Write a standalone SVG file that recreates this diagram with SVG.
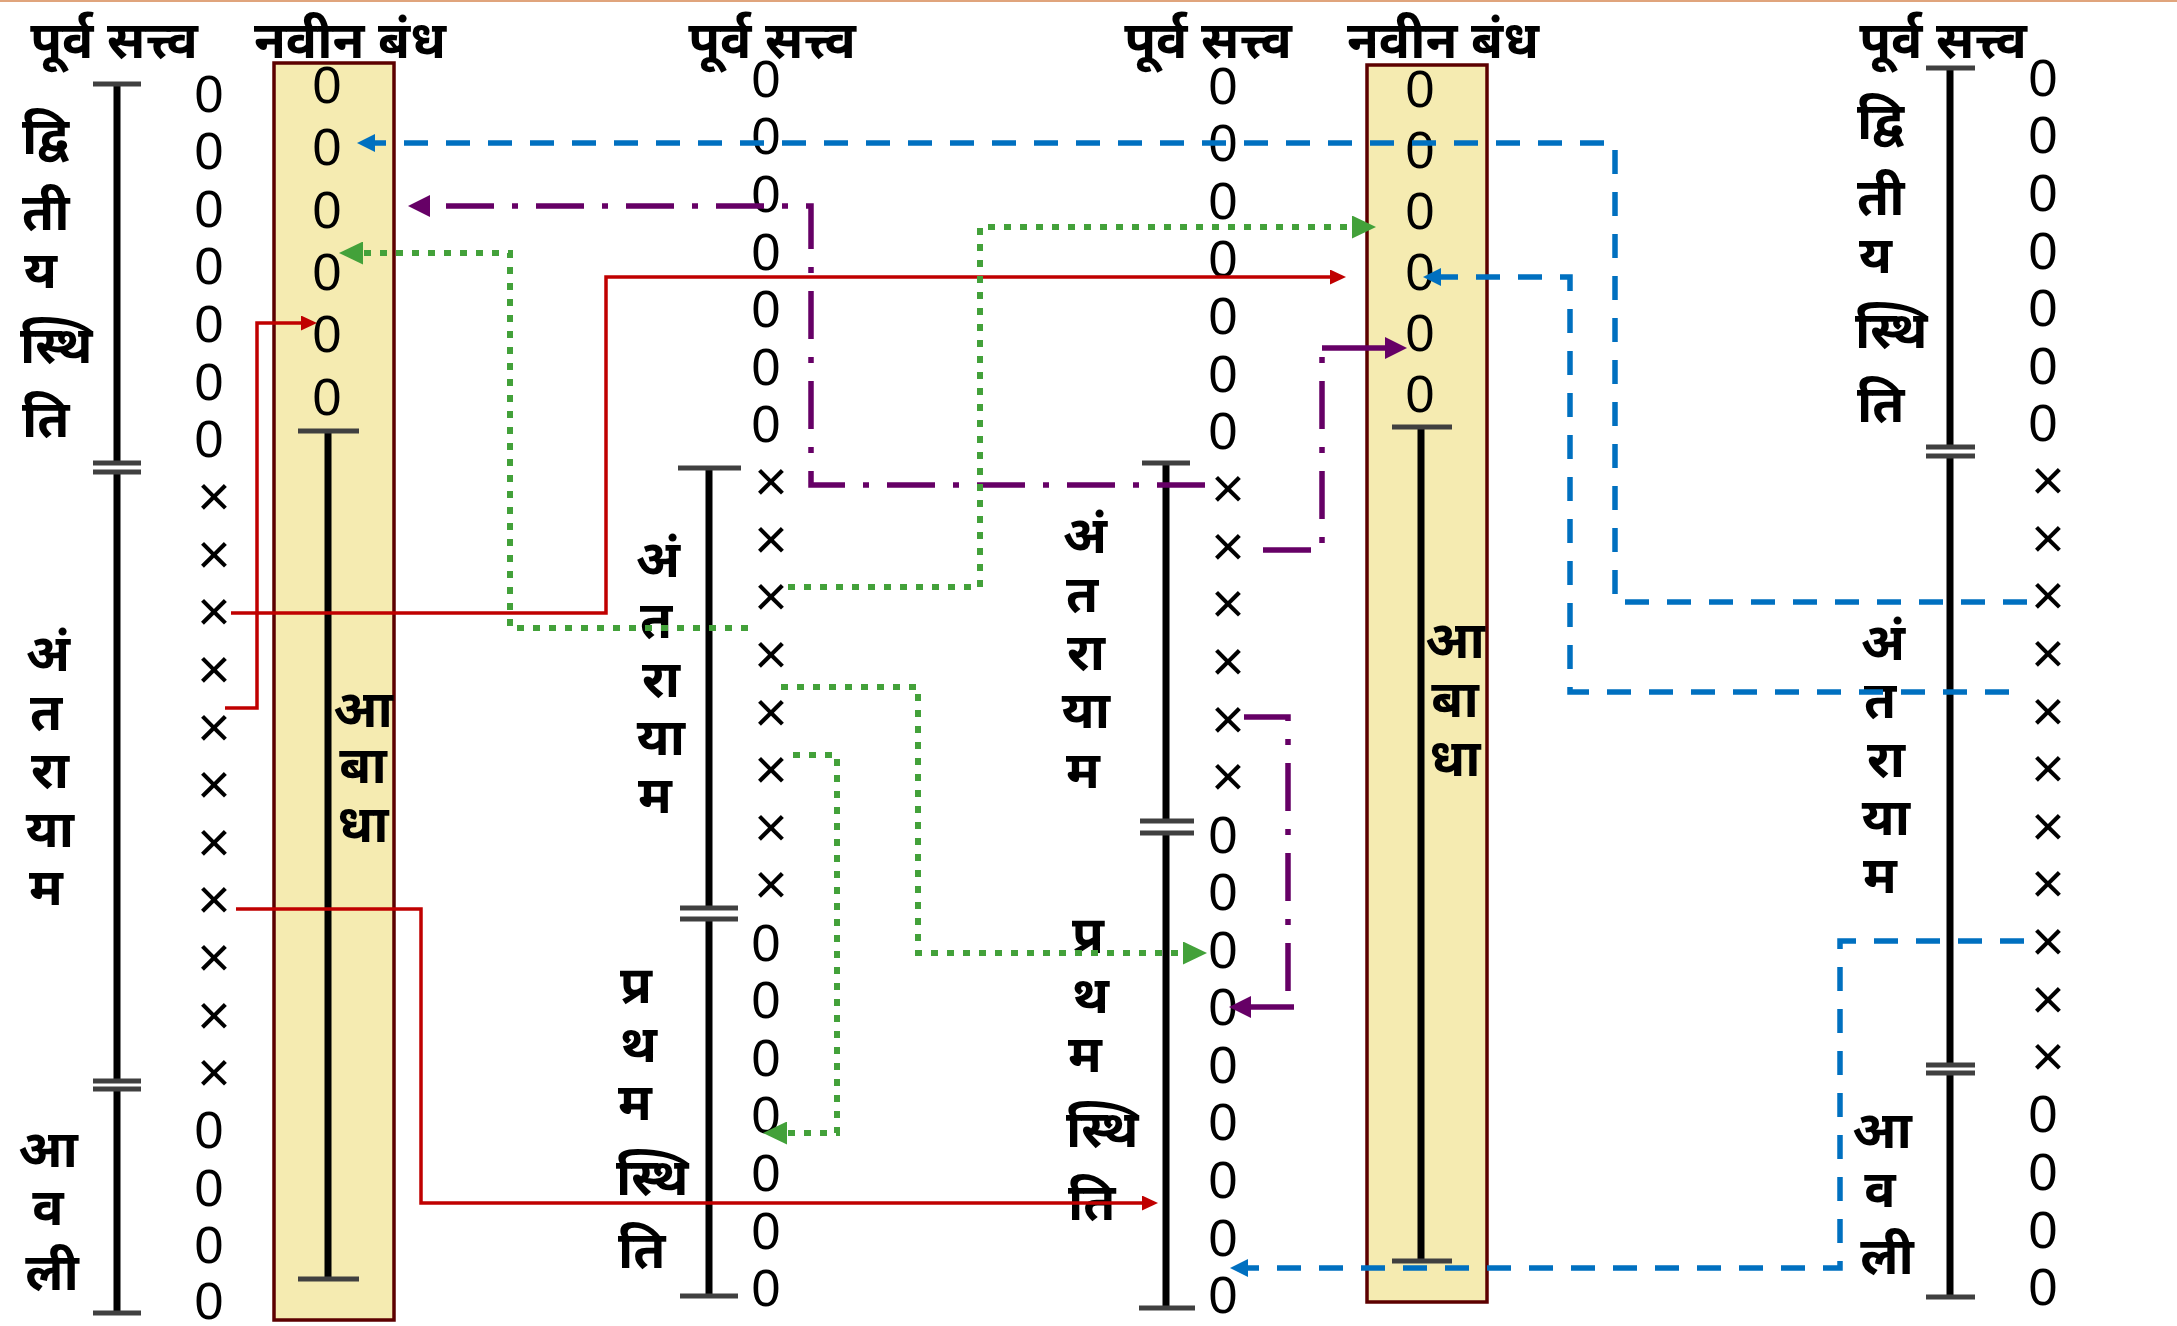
<svg xmlns="http://www.w3.org/2000/svg" width="2177" height="1326" viewBox="0 0 2177 1326">
<defs>
<style>
.dev{font-family:"Noto Sans Devanagari","Noto Serif Devanagari","Lohit Devanagari","Mangal","Nirmala UI","Noto Sans",sans-serif;font-size:52px;font-weight:700;fill:#000}
.m{text-anchor:middle}
.num{font-family:"Liberation Sans",Arial,sans-serif;font-size:52px;text-anchor:middle;fill:#000}
.x{font-family:"Liberation Sans",Arial,sans-serif;font-size:58px;text-anchor:middle;fill:#000}
.ax{stroke:#000;stroke-width:7;fill:none}
.cap{fill:#404040}
.box{fill:#f5ebb1;stroke:#5c0000;stroke-width:3.5}
.red{stroke:#c00000;stroke-width:3.5;fill:none}
.pur{stroke:#660066;stroke-width:5.5;fill:none;stroke-dasharray:48 18 6 18}
.purs{stroke:#660066;stroke-width:5.5;fill:none}
.grn{stroke:#43a13a;stroke-width:6;fill:none;stroke-dasharray:7 9}
.blu{stroke:#0070c0;stroke-width:5.5;fill:none;stroke-dasharray:24 18}
</style>
<marker id="aR" markerUnits="userSpaceOnUse" markerWidth="16" markerHeight="15" refX="0" refY="7.5" orient="auto"><path d="M0,0 L16,7.5 L0,15z" fill="#c00000"/></marker>
<marker id="aP" markerUnits="userSpaceOnUse" markerWidth="22" markerHeight="22" refX="0" refY="11" orient="auto"><path d="M0,0 L22,11 L0,22z" fill="#660066"/></marker>
<marker id="aG" markerUnits="userSpaceOnUse" markerWidth="24" markerHeight="23" refX="0" refY="11.5" orient="auto"><path d="M0,0 L24,11.5 L0,23z" fill="#43a13a"/></marker>
<marker id="aB" markerUnits="userSpaceOnUse" markerWidth="18" markerHeight="18" refX="0" refY="9" orient="auto"><path d="M0,0 L18,9 L0,18z" fill="#0070c0"/></marker>
</defs>
<rect x="0" y="0" width="2177" height="1326" fill="#fff"/>
<rect x="0" y="0" width="2177" height="2" fill="#e0a47c"/>

<g id="box1">
<rect class="box" x="274" y="63" width="120" height="1257"/>
<text class="dev m" x="350" y="58">नवीन बंध</text>
<line class="ax" x1="328" y1="431" x2="328" y2="1279"/>
<rect class="cap" x="298" y="428.5" width="61" height="5"/>
<rect class="cap" x="298" y="1276.5" width="61" height="5"/>
<text class="num" x="327" y="102.5">0</text>
<text class="num" x="327" y="165">0</text>
<text class="num" x="327" y="227.5">0</text>
<text class="num" x="327" y="289.5">0</text>
<text class="num" x="327" y="352">0</text>
<text class="num" x="327" y="414.5">0</text>
<text class="dev m" x="363" y="727">आ</text>
<text class="dev m" x="363" y="783">बा</text>
<text class="dev m" x="363" y="842">धा</text>
</g>

<g id="box2">
<rect class="box" x="1367" y="65" width="120" height="1237"/>
<text class="dev m" x="1443" y="58">नवीन बंध</text>
<line class="ax" x1="1421" y1="427" x2="1421" y2="1261"/>
<rect class="cap" x="1392" y="424.5" width="60" height="5"/>
<rect class="cap" x="1392" y="1258.5" width="60" height="5"/>
<text class="num" x="1420" y="106.5">0</text>
<text class="num" x="1420" y="167.5">0</text>
<text class="num" x="1420" y="228.5">0</text>
<text class="num" x="1420" y="289.5">0</text>
<text class="num" x="1420" y="350.5">0</text>
<text class="num" x="1420" y="411.5">0</text>
<text class="dev m" x="1455" y="658">आ</text>
<text class="dev m" x="1455" y="717">बा</text>
<text class="dev m" x="1455" y="776">धा</text>
</g>

<g id="col1">
<text class="dev m" x="114" y="58">पूर्व सत्त्व</text>
<line class="ax" x1="117" y1="84" x2="117" y2="463"/>
<line class="ax" x1="117" y1="472" x2="117" y2="1081"/>
<line class="ax" x1="117" y1="1089" x2="117" y2="1313"/>
<rect class="cap" x="93" y="81.5" width="48" height="5"/>
<rect class="cap" x="93" y="460.5" width="48" height="5"/>
<rect class="cap" x="93" y="469.5" width="48" height="5"/>
<rect class="cap" x="93" y="1078.5" width="48" height="5"/>
<rect class="cap" x="93" y="1086.5" width="48" height="5"/>
<rect class="cap" x="93" y="1310.5" width="48" height="5"/>
<text class="dev" x="22" y="154">द्वि</text>
<text class="dev" x="22" y="230">ती</text>
<text class="dev" x="24" y="288">य</text>
<text class="dev" x="20" y="363">स्थि</text>
<text class="dev" x="22" y="437">ति</text>
<text class="dev m" x="48" y="671">अं</text>
<text class="dev m" x="46" y="730">त</text>
<text class="dev m" x="50" y="788">रा</text>
<text class="dev m" x="50" y="847">या</text>
<text class="dev m" x="46" y="905">म</text>
<text class="dev m" x="48" y="1167">आ</text>
<text class="dev m" x="48" y="1225">व</text>
<text class="dev m" x="52" y="1290">ली</text>
<text class="num" x="209" y="111.5">0</text>
<text class="num" x="209" y="169">0</text>
<text class="num" x="209" y="227">0</text>
<text class="num" x="209" y="284">0</text>
<text class="num" x="209" y="342">0</text>
<text class="num" x="209" y="399.5">0</text>
<text class="num" x="209" y="457">0</text>
<text class="x" x="214" y="516">×</text>
<text class="x" x="214" y="574">×</text>
<text class="x" x="214" y="631">×</text>
<text class="x" x="214" y="689">×</text>
<text class="x" x="214" y="747">×</text>
<text class="x" x="214" y="804">×</text>
<text class="x" x="214" y="862">×</text>
<text class="x" x="214" y="919">×</text>
<text class="x" x="214" y="977">×</text>
<text class="x" x="214" y="1035">×</text>
<text class="x" x="214" y="1092">×</text>
<text class="num" x="209" y="1148">0</text>
<text class="num" x="209" y="1206">0</text>
<text class="num" x="209" y="1263">0</text>
<text class="num" x="209" y="1319">0</text>
</g>

<g id="col2">
<text class="dev m" x="772" y="58">पूर्व सत्त्व</text>
<line class="ax" x1="709" y1="468" x2="709" y2="908"/>
<line class="ax" x1="709" y1="919" x2="709" y2="1296"/>
<rect class="cap" x="678" y="465.5" width="63" height="5"/>
<rect class="cap" x="680" y="905.5" width="58" height="5"/>
<rect class="cap" x="680" y="916.5" width="58" height="5"/>
<rect class="cap" x="680" y="1293.5" width="58" height="5"/>
<text class="dev m" x="658" y="577">अं</text>
<text class="dev m" x="656" y="638">त</text>
<text class="dev m" x="661" y="697">रा</text>
<text class="dev m" x="661" y="755">या</text>
<text class="dev m" x="655" y="813">म</text>
<text class="dev" x="620" y="1003">प्र</text>
<text class="dev" x="620" y="1062">थ</text>
<text class="dev" x="618" y="1120">म</text>
<text class="dev" x="616" y="1195">स्थि</text>
<text class="dev" x="618" y="1268">ति</text>
<text class="num" x="766" y="96.5">0</text>
<text class="num" x="766" y="154">0</text>
<text class="num" x="766" y="211.5">0</text>
<text class="num" x="766" y="269.5">0</text>
<text class="num" x="766" y="327">0</text>
<text class="num" x="766" y="384.5">0</text>
<text class="num" x="766" y="442">0</text>
<text class="x" x="771" y="501">×</text>
<text class="x" x="771" y="559">×</text>
<text class="x" x="771" y="616">×</text>
<text class="x" x="771" y="674">×</text>
<text class="x" x="771" y="732">×</text>
<text class="x" x="771" y="789">×</text>
<text class="x" x="771" y="847">×</text>
<text class="x" x="771" y="904">×</text>
<text class="num" x="766" y="960.5">0</text>
<text class="num" x="766" y="1018">0</text>
<text class="num" x="766" y="1075.5">0</text>
<text class="num" x="766" y="1133">0</text>
<text class="num" x="766" y="1191">0</text>
<text class="num" x="766" y="1248.5">0</text>
<text class="num" x="766" y="1306">0</text>
</g>

<g id="col3">
<text class="dev m" x="1208" y="58">पूर्व सत्त्व</text>
<line class="ax" x1="1166" y1="463" x2="1166" y2="821"/>
<line class="ax" x1="1166" y1="833" x2="1166" y2="1308"/>
<rect class="cap" x="1142" y="460.5" width="48" height="5"/>
<rect class="cap" x="1140" y="818.5" width="54" height="5"/>
<rect class="cap" x="1140" y="830.5" width="54" height="5"/>
<rect class="cap" x="1139" y="1305.5" width="56" height="5"/>
<text class="dev m" x="1085" y="553">अं</text>
<text class="dev m" x="1082" y="612">त</text>
<text class="dev m" x="1086" y="670">रा</text>
<text class="dev m" x="1086" y="728">या</text>
<text class="dev m" x="1083" y="788">म</text>
<text class="dev" x="1072" y="953">प्र</text>
<text class="dev" x="1072" y="1013">थ</text>
<text class="dev" x="1068" y="1072">म</text>
<text class="dev" x="1066" y="1147">स्थि</text>
<text class="dev" x="1068" y="1220">ति</text>
<text class="num" x="1223" y="103.5">0</text>
<text class="num" x="1223" y="161">0</text>
<text class="num" x="1223" y="218.5">0</text>
<text class="num" x="1223" y="276.5">0</text>
<text class="num" x="1223" y="334">0</text>
<text class="num" x="1223" y="391.5">0</text>
<text class="num" x="1223" y="449">0</text>
<text class="x" x="1228" y="508">×</text>
<text class="x" x="1228" y="566">×</text>
<text class="x" x="1228" y="623">×</text>
<text class="x" x="1228" y="681">×</text>
<text class="x" x="1228" y="739">×</text>
<text class="x" x="1228" y="796">×</text>
<text class="num" x="1223" y="852.5">0</text>
<text class="num" x="1223" y="910">0</text>
<text class="num" x="1223" y="967.5">0</text>
<text class="num" x="1223" y="1025">0</text>
<text class="num" x="1223" y="1082.5">0</text>
<text class="num" x="1223" y="1140">0</text>
<text class="num" x="1223" y="1198">0</text>
<text class="num" x="1223" y="1255.5">0</text>
<text class="num" x="1223" y="1313">0</text>
</g>

<g id="col5">
<text class="dev m" x="1943" y="58">पूर्व सत्त्व</text>
<line class="ax" x1="1950" y1="68" x2="1950" y2="447"/>
<line class="ax" x1="1950" y1="456" x2="1950" y2="1065"/>
<line class="ax" x1="1950" y1="1073" x2="1950" y2="1297"/>
<rect class="cap" x="1926" y="65.5" width="49" height="5"/>
<rect class="cap" x="1926" y="444.5" width="49" height="5"/>
<rect class="cap" x="1926" y="453.5" width="49" height="5"/>
<rect class="cap" x="1926" y="1062.5" width="49" height="5"/>
<rect class="cap" x="1926" y="1070.5" width="49" height="5"/>
<rect class="cap" x="1926" y="1294.5" width="49" height="5"/>
<text class="dev" x="1857" y="139">द्वि</text>
<text class="dev" x="1857" y="215">ती</text>
<text class="dev" x="1859" y="273">य</text>
<text class="dev" x="1855" y="348">स्थि</text>
<text class="dev" x="1857" y="422">ति</text>
<text class="dev m" x="1883" y="660">अं</text>
<text class="dev m" x="1880" y="718">त</text>
<text class="dev m" x="1886" y="777">रा</text>
<text class="dev m" x="1886" y="835">या</text>
<text class="dev m" x="1880" y="893">म</text>
<text class="dev m" x="1882" y="1148">आ</text>
<text class="dev m" x="1880" y="1207">व</text>
<text class="dev m" x="1887" y="1274">ली</text>
<text class="num" x="2043" y="95.5">0</text>
<text class="num" x="2043" y="153">0</text>
<text class="num" x="2043" y="210.5">0</text>
<text class="num" x="2043" y="268.5">0</text>
<text class="num" x="2043" y="326">0</text>
<text class="num" x="2043" y="383.5">0</text>
<text class="num" x="2043" y="441">0</text>
<text class="x" x="2048" y="500">×</text>
<text class="x" x="2048" y="558">×</text>
<text class="x" x="2048" y="615">×</text>
<text class="x" x="2048" y="673">×</text>
<text class="x" x="2048" y="731">×</text>
<text class="x" x="2048" y="788">×</text>
<text class="x" x="2048" y="846">×</text>
<text class="x" x="2048" y="903">×</text>
<text class="x" x="2048" y="961">×</text>
<text class="x" x="2048" y="1019">×</text>
<text class="x" x="2048" y="1076">×</text>
<text class="num" x="2043" y="1132">0</text>
<text class="num" x="2043" y="1190">0</text>
<text class="num" x="2043" y="1247.5">0</text>
<text class="num" x="2043" y="1305">0</text>
</g>

<g id="connectors">
<path class="red" d="M231,613 H606 V277 H1330" marker-end="url(#aR)"/>
<path class="red" d="M225,708 H257 V323 H301" marker-end="url(#aR)"/>
<path class="red" d="M236,909 H421 V1203 H1142" marker-end="url(#aR)"/>
<path class="pur" d="M1205,485 H811 V206 H430" marker-end="url(#aP)"/>
<path class="pur" d="M1263,550 H1322 V348"/>
<path class="purs" d="M1322,348 H1385" marker-end="url(#aP)"/>
<path class="pur" d="M1244,717 H1288 V1007"/>
<path class="purs" d="M1294,1007 H1251" marker-end="url(#aP)"/>
<path class="grn" d="M748,628 H510 V253 H363" marker-end="url(#aG)"/>
<path class="grn" d="M788,587 H980 V227 H1352" marker-end="url(#aG)"/>
<path class="grn" d="M781,687 H918 V953 H1183" marker-end="url(#aG)"/>
<path class="grn" d="M793,755 H837 V1133 H787" marker-end="url(#aG)"/>
<path class="blu" d="M2027,602 H1615 V143 H375" marker-end="url(#aB)"/>
<path class="blu" d="M2009,692 H1570 V277 H1441" marker-end="url(#aB)"/>
<path class="blu" d="M2024,941 H1840 V1268 H1248" marker-end="url(#aB)"/>
</g>
</svg>
